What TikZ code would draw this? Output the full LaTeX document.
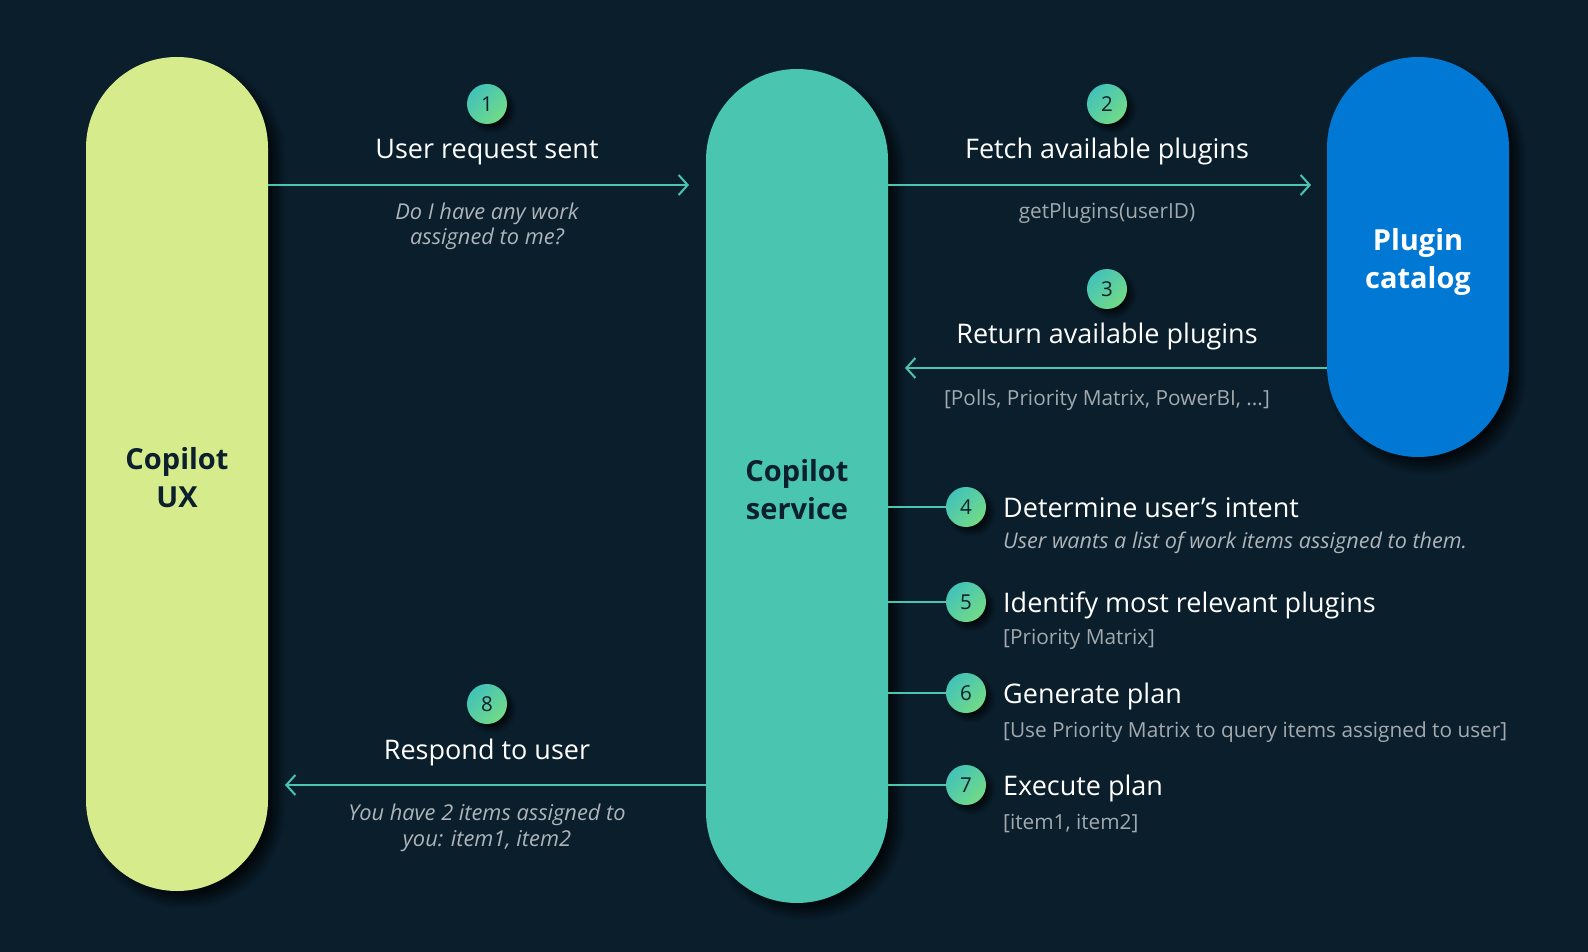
\documentclass[tikz,border=0pt]{standalone}
\usepackage{fontspec}
\setmainfont{Open Sans}
\usetikzlibrary{arrows.meta,shadows.blur}
\definecolor{bg}{HTML}{0A1E2C}
\definecolor{uxcol}{HTML}{D5EB8C}
\definecolor{svccol}{HTML}{4AC5B0}
\definecolor{plugcol}{HTML}{0078D4}
\definecolor{linecol}{HTML}{4AC5B0}
\definecolor{dotA}{HTML}{43C3B9}
\definecolor{dotB}{HTML}{72DA86}
\definecolor{darktext}{HTML}{0B1F2D}
\definecolor{subgray}{HTML}{A3AAAF}
\definecolor{itgray}{HTML}{AEB4B8}
\tikzset{
  pill/.style={rounded corners=90.9pt, minimum width=182pt, inner sep=0pt,
    blur shadow={shadow xshift=9pt, shadow yshift=-9pt, shadow blur radius=9pt,
      shadow opacity=75, shadow blur steps=12}},
  pilltxt/.style={inner sep=0pt, align=center, font=\fontsize{29}{38}\selectfont\bfseries},
  numdot/.style={circle, minimum size=40pt, inner sep=0pt,
    top color=dotA, bottom color=dotB, shading angle=45,
    text=darktext, font=\fontsize{20.5}{24}\selectfont,
    blur shadow={shadow xshift=5pt, shadow yshift=-5pt, shadow blur radius=5pt,
      shadow opacity=70, shadow blur steps=8}},
  conn/.style={draw=linecol, line width=2pt},
  arr/.style={conn, -{Straight Barb[length=9pt,width=20pt]}},
  ttl/.style={text=white, font=\fontsize{27}{32}\selectfont, inner sep=0pt, anchor=base},
  stepttl/.style={ttl, anchor=base west},
  subtxt/.style={text=subgray, font=\fontsize{20.8}{25}\selectfont, inner sep=0pt, anchor=base},
  stepsub/.style={subtxt, anchor=base west},
  itl/.style={text=itgray, font=\fontsize{21.8}{25.5}\selectfont\itshape, inner sep=0pt,
    align=center, anchor=base},
  stepitl/.style={text=itgray, font=\fontsize{21.6}{25}\selectfont\itshape, inner sep=0pt,
    anchor=base west}
}
\begin{document}
\begin{tikzpicture}[x=1pt,y=-1pt]
\fill[bg] (0,0) rectangle (1588,952);
\useasboundingbox (0,0) rectangle (1588,952);

% pills
\node[pill, fill=uxcol, minimum height=834pt] (ux) at (177,474) {};
\node[pill, fill=svccol, minimum height=834pt] (svc) at (797,486) {};
\node[pill, fill=plugcol, minimum height=400pt] (plug) at (1418,257) {};
\node[pilltxt, text=darktext] (uxlbl) at ([yshift=-3.5pt]ux.center) {Copilot\\UX};
\node[pilltxt, text=darktext] (svclbl) at ([yshift=-3.5pt]svc.center) {Copilot\\service};
\node[pilltxt, text=white] (pluglbl) at ([yshift=-5pt]plug.center) {Plugin\\catalog};

% arrow end coordinates
\coordinate (e1) at (689,185);
\coordinate (e2) at (1311,185);
\coordinate (e3) at (905,368);
\coordinate (e8) at (285,785);

\draw[arr] (ux.east |- e1) -- (e1);
\draw[arr] (svc.east |- e2) -- (e2);
\draw[arr] (plug.west |- e3) -- (e3);
\draw[arr] (svc.west |- e8) -- (e8);

% numbered dots
\node[numdot] (c1) at (487,104) {1};
\node[numdot] (c2) at (1107,104) {2};
\node[numdot] (c3) at (1107,289) {3};
\node[numdot] (c8) at (487,704) {8};
\node[numdot] (c4) at (966,507) {4};
\node[numdot] (c5) at (966,602) {5};
\node[numdot] (c6) at (966,693) {6};
\node[numdot] (c7) at (966,785) {7};

\draw[conn] (svc.east |- c4) -- (c4);
\draw[conn] (svc.east |- c5) -- (c5);
\draw[conn] (svc.east |- c6) -- (c6);
\draw[conn] (svc.east |- c7) -- (c7);

% labels of arrows
\node[ttl] (t1) at (487,159) {User request sent};
\node[itl] (s1) at (487,245) {Do I have any work\\assigned to me?};
\node[ttl] (t2) at (1107,159) {Fetch available plugins};
\node[subtxt] (s2) at (1107,219) {getPlugins(userID)};
\node[ttl] (t3) at (1107,343) {Return available plugins};
\node[subtxt] (s3) at (1107,405) {[Polls, Priority Matrix, PowerBI, ...]};
\node[ttl] (t8) at (487,759) {Respond to user};
\node[itl] (s8) at (487,846) {You have 2 items assigned to\\you: item1, item2};

% steps
\node[stepttl] (t4) at (1003,517) {Determine user’s intent};
\node[stepitl] (s4) at (1003,548) {User wants a list of work items assigned to them.};
\node[stepttl] (t5) at (1003,612) {Identify most relevant plugins};
\node[stepsub] (s5) at (1003,644) {[Priority Matrix]};
\node[stepttl] (t6) at (1003,703) {Generate plan};
\node[stepsub] (s6) at (1003,737) {[Use Priority Matrix to query items assigned to user]};
\node[stepttl] (t7) at (1003,795) {Execute plan};
\node[stepsub] (s7) at (1003,829) {[item1, item2]};
\end{tikzpicture}
\end{document}
